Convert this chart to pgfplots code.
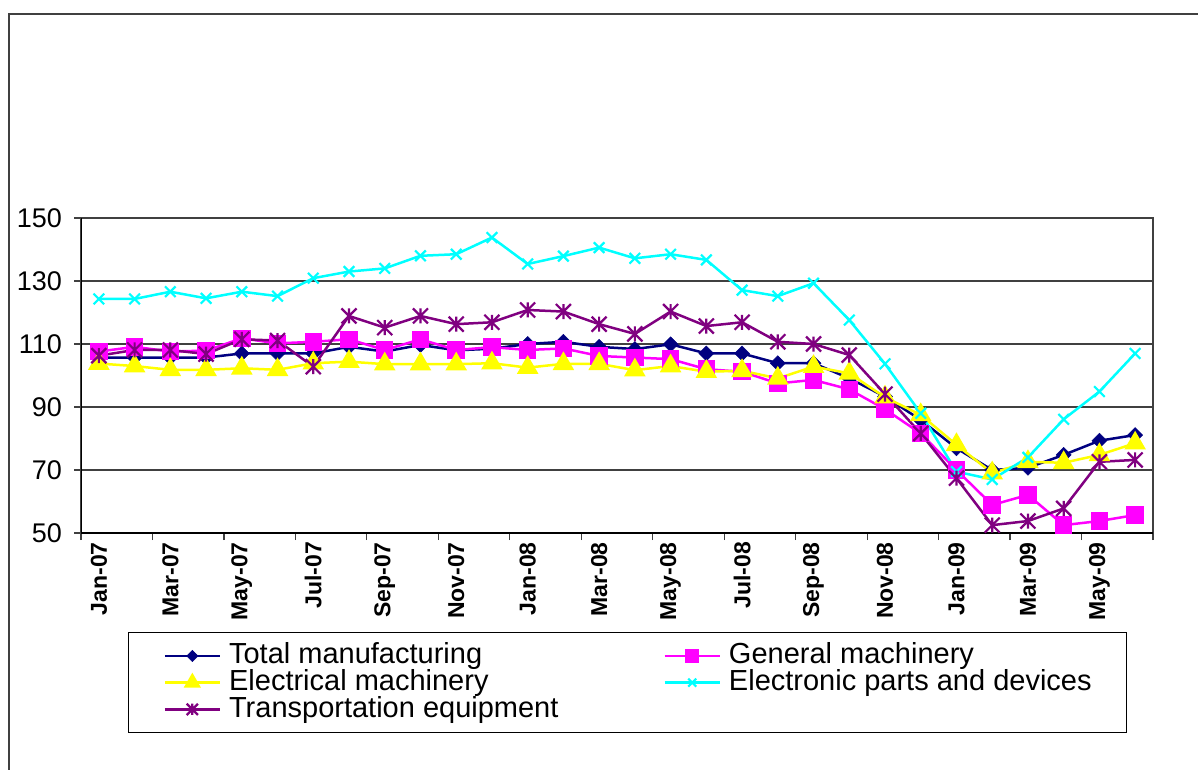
\documentclass[border=0pt]{standalone}
\usepackage{pgfplots}
\usepackage{pgfplotstable}
\pgfplotsset{compat=1.18}
\usepackage{fontspec}
\setmainfont{Liberation Sans}
\definecolor{ctm}{RGB}{0,0,128}
\definecolor{cgm}{RGB}{255,0,255}
\definecolor{cem}{RGB}{255,255,0}
\definecolor{cep}{RGB}{0,255,255}
\definecolor{cte}{RGB}{128,0,128}
\definecolor{gridc}{RGB}{64,64,64}
\pgfdeclareplotmark{xstar}{%
  \pgfpathmoveto{\pgfqpoint{-\pgfplotmarksize}{-\pgfplotmarksize}}%
  \pgfpathlineto{\pgfqpoint{\pgfplotmarksize}{\pgfplotmarksize}}%
  \pgfpathmoveto{\pgfqpoint{-\pgfplotmarksize}{\pgfplotmarksize}}%
  \pgfpathlineto{\pgfqpoint{\pgfplotmarksize}{-\pgfplotmarksize}}%
  \pgfpathmoveto{\pgfqpoint{0pt}{-\pgfplotmarksize}}%
  \pgfpathlineto{\pgfqpoint{0pt}{\pgfplotmarksize}}%
  \pgfusepathqstroke}
\pgfdeclareplotmark{rhomb}{%
  \pgfpathmoveto{\pgfqpoint{0pt}{\pgfplotmarksize}}%
  \pgfpathlineto{\pgfqpoint{\pgfplotmarksize}{0pt}}%
  \pgfpathlineto{\pgfqpoint{0pt}{-\pgfplotmarksize}}%
  \pgfpathlineto{\pgfqpoint{-\pgfplotmarksize}{0pt}}%
  \pgfpathclose
  \pgfusepathqfillstroke}
\pgfplotstableread{
i  tm     gm     em     ep     te
0  105.7  107.6  103.8  124.3  106.3
1  105.7  109.1  103.0  124.3  108.1
2  105.7  107.6  101.8  126.6  108.1
3  105.7  107.9  101.8  124.5  106.8
4  107.0  111.8  102.3  126.6  111.5
5  107.0  110.2  101.8  125.2  111.1
6  107.0  110.7  103.9  130.9  102.8
7  109.1  111.5  104.4  133.0  118.9
8  107.6  108.1  103.6  134.0  115.2
9  109.7  111.5  103.6  138.0  118.9
10 108.0  108.1  103.6  138.5  116.3
11 108.5  109.0  103.9  143.8  116.9
12 110.0  108.1  102.5  135.4  120.8
13 110.7  108.6  103.7  137.9  120.3
14 109.1  106.2  103.7  140.6  116.3
15 108.4  105.7  101.7  137.2  113.2
16 109.9  105.2  103.0  138.5  120.3
17 107.0  102.0  101.2  136.7  115.7
18 107.0  101.2  101.5  127.1  116.9
19 103.9  97.5   99.1   125.2  110.7
20 103.9  98.6   102.8  129.3  110.0
21 99.1   95.6   100.7  117.6  106.5
22 93.3   89.3   93.1   103.7  94.1
23 85.9   81.6   87.5   88.0   81.6
24 76.9   70.0   78.0   69.5   67.4
25 70.0   58.9   69.0   67.0   52.5
26 70.7   62.1   72.6   74.0   53.8
27 74.8   52.5   72.3   86.1   57.8
28 79.3   53.8   74.8   94.9   72.6
29 81.1   55.7   78.5   107.0  73.2
}\datatable
\begin{document}
\begin{tikzpicture}
\useasboundingbox (0pt,0pt) rectangle (1198pt,769pt);
\draw[gridc, line width=2pt] (8.5pt,-2pt) -- (8.5pt,754.5pt) -- (1200pt,754.5pt);
\begin{axis}[
  at={(81pt,236pt)}, anchor=south west,
  scale only axis, width=1072pt, height=315pt,
  xmin=-0.5, xmax=29.5, ymin=50, ymax=150,
  ytick={50,70,...,150},
  xtick={-0.5,1.5,...,29.5},
  xticklabels={},
  extra x ticks={0,2,...,28},
  extra x tick labels={Jan-07,Mar-07,May-07,Jul-07,Sep-07,Nov-07,Jan-08,Mar-08,May-08,Jul-08,Sep-08,Nov-08,Jan-09,Mar-09,May-09},
  extra x tick style={major tick length=0pt},
  xtick pos=bottom, ytick pos=left,
  tick align=outside,
  major tick length=7pt,
  tick style={gridc, line width=1.2pt},
  ymajorgrids,
  grid style={gridc, line width=1.2pt},
  axis line style={gridc, line width=1.2pt},
  /pgf/number format/assume math mode=true,
  yticklabel style={font=\fontsize{27}{27}\selectfont, inner sep=0pt, xshift=-12pt},
  xticklabel style={font=\bfseries\fontsize{23}{23}\selectfont, rotate=90, anchor=east, inner sep=0pt, xshift=-9pt},
  legend columns=2,
  legend cell align=left,
  legend style={at={(0.04384,-0.31429)}, anchor=north west, draw=black, line width=1.2pt,
    font=\fontsize{29}{29}\selectfont, inner xsep=35pt, inner ysep=10pt,
    nodes={inner sep=0pt, text height=21pt, text depth=5.7pt},
    /tikz/every odd column/.append style={column sep=8pt},
    /tikz/every even column/.append style={column sep=105pt}},
  legend image code/.code={\draw[mark repeat=2,mark phase=2,#1, every mark/.append style={scale=0.75}] plot coordinates {(0pt,0pt) (27.5pt,0pt) (55pt,0pt)};},
  every axis plot/.append style={line width=2.5pt},
]
\addplot[ctm, mark=rhomb, mark size=7.5pt, mark options={line width=0.5pt}] table[x=i, y=tm] {\datatable};
\addlegendentry{Total manufacturing}
\addplot[cgm, mark=square*, mark size=7.5pt] table[x=i, y=gm] {\datatable};
\addlegendentry{General machinery}
\addplot[cem, mark=triangle*, mark size=10pt] table[x=i, y=em] {\datatable};
\addlegendentry{Electrical machinery}
\addplot[cep, mark=x, mark size=7.5pt, mark options={line width=2.2pt}] table[x=i, y=ep] {\datatable};
\addlegendentry{Electronic parts and devices}
\addplot[cte, mark=xstar, mark size=7.5pt, mark options={line width=2.2pt}] table[x=i, y=te] {\datatable};
\addlegendentry{Transportation equipment}
\draw[black, line width=2pt] (rel axis cs:0,1) -- (rel axis cs:0,0) -- (rel axis cs:1,0);
\end{axis}
\end{tikzpicture}
\end{document}
